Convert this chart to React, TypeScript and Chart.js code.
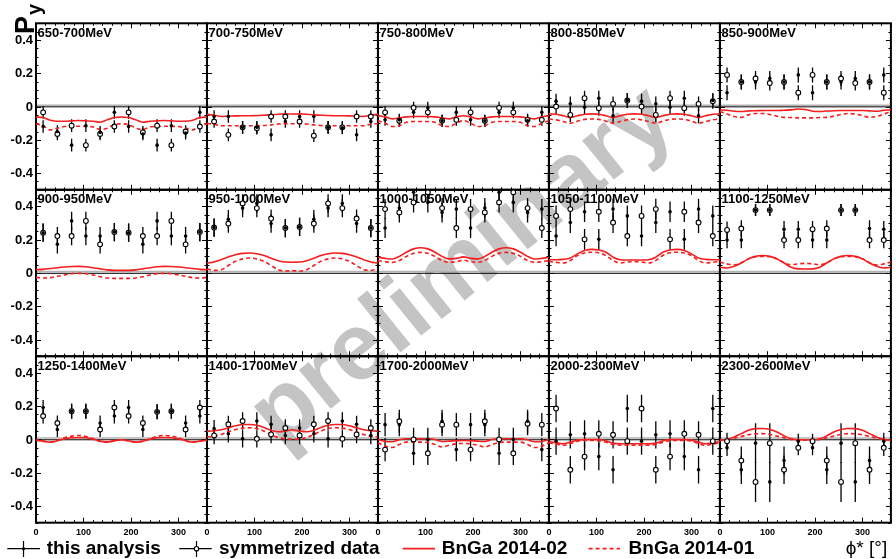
import React, { useEffect, useRef } from "react";
import { Chart, registerables } from "chart.js";

Chart.register(...registerables);

const FONT = '"Liberation Sans", Arial, Helvetica, sans-serif';

const PANEL_LABELS = [
  "650-700MeV", "700-750MeV", "750-800MeV", "800-850MeV", "850-900MeV",
  "900-950MeV", "950-1000MeV", "1000-1050MeV", "1050-1100MeV", "1100-1250MeV",
  "1250-1400MeV", "1400-1700MeV", "1700-2000MeV", "2000-2300MeV", "2300-2600MeV",
];

const PHI_BINS = [15, 45, 75, 105, 135, 165, 195, 225, 255, 285, 315, 345];
const CURVE_PHI = [0, 15, 30, 45, 60, 75, 90, 105, 120, 135, 150, 165, 180, 195, 210, 225, 240, 255, 270, 285, 300, 315, 330, 345, 360];

const X_TICKS = [0, 100, 200, 300];
const X_TICK_LABELS = ["0", "100", "200", "300"];
const Y_TICKS = [-0.4, -0.2, 0, 0.2, 0.4];
const Y_TICK_LABELS = ["-0.4", "-0.2", "0", "0.2", "0.4"];

const LEGEND_LABELS = ["this analysis", "symmetrized data", "BnGa 2014-02", "BnGa 2014-01"];
const X_TITLE = "\u03D5* [\u00B0]";
const Y_TITLE = "P";
const Y_TITLE_SUB = "y";
const WATERMARK = "preliminary";

// "this analysis" (filled dots)
const THIS_ANALYSIS = [
  [-0.12, -0.15, -0.232, -0.115, -0.155, -0.035, -0.12, -0.165, -0.232, -0.115, -0.16, -0.035],
  [-0.06, -0.06, -0.125, -0.125, -0.17, -0.09, -0.06, -0.06, -0.125, -0.128, -0.17, -0.09],
  [-0.08, -0.08, -0.035, -0.008, -0.085, -0.035, -0.08, -0.085, -0.035, -0.008, -0.085, -0.035],
  [0.032, 0.016, -0.004, 0.05, -0.055, 0.036, 0.032, 0.016, -0.004, 0.05, -0.055, 0.036],
  [0.083, 0.147, 0.147, 0.168, 0.147, 0.19, 0.083, 0.147, 0.147, 0.168, 0.147, 0.19],
  [0.242, 0.172, 0.313, 0.222, 0.222, 0.246, 0.242, 0.172, 0.313, 0.222, 0.222, 0.246],
  [0.273, 0.323, 0.39, 0.418, 0.297, 0.27, 0.277, 0.323, 0.39, 0.418, 0.297, 0.27],
  [0.27, 0.39, 0.485, 0.424, 0.364, 0.384, 0.27, 0.39, 0.485, 0.424, 0.364, 0.384],
  [0.222, 0.303, 0.368, 0.202, 0.384, 0.343, 0.222, 0.303, 0.368, 0.202, 0.384, 0.343],
  [0.198, 0.198, 0.378, 0.378, 0.263, 0.263, 0.198, 0.198, 0.378, 0.378, 0.267, 0.263],
  [0.192, 0.06, 0.17, 0.17, 0.099, 0.141, 0.192, 0.06, 0.166, 0.17, 0.099, 0.141],
  [0.065, 0.034, 0.004, 0.111, 0.091, 0.024, 0.069, 0.034, 0.004, 0.111, 0.091, 0.024],
  [0.089, 0.089, -0.083, 0.0, 0.109, -0.061, 0.089, 0.089, -0.083, 0.0, 0.109, -0.061],
  [-0.01, 0.028, 0.034, -0.103, -0.182, 0.186, -0.01, 0.028, 0.034, -0.103, -0.182, 0.186],
  [-0.05, -0.182, -0.022, -0.255, -0.127, -0.01, -0.05, -0.182, -0.022, -0.255, -0.127, -0.01],
];

// "symmetrized data" (open circles)
const SYMMETRIZED = [
  [-0.035, -0.165, -0.115, -0.232, -0.165, -0.12, -0.035, -0.155, -0.115, -0.232, -0.15, -0.12],
  [-0.09, -0.17, -0.125, -0.13, -0.06, -0.06, -0.09, -0.175, -0.125, -0.125, -0.06, -0.06],
  [-0.035, -0.085, -0.008, -0.035, -0.085, -0.08, -0.035, -0.085, -0.008, -0.035, -0.08, -0.08],
  [0.0, -0.05, 0.05, -0.01, 0.016, 0.036, 0.0, -0.05, 0.05, -0.01, 0.016, 0.032],
  [0.19, 0.147, 0.168, 0.141, 0.147, 0.083, 0.19, 0.147, 0.168, 0.141, 0.147, 0.083],
  [0.242, 0.222, 0.222, 0.313, 0.172, 0.246, 0.242, 0.222, 0.222, 0.313, 0.172, 0.246],
  [0.273, 0.297, 0.418, 0.39, 0.327, 0.27, 0.277, 0.297, 0.418, 0.39, 0.327, 0.27],
  [0.384, 0.364, 0.424, 0.485, 0.39, 0.27, 0.384, 0.364, 0.424, 0.485, 0.39, 0.27],
  [0.343, 0.384, 0.202, 0.368, 0.303, 0.222, 0.343, 0.384, 0.202, 0.368, 0.303, 0.222],
  [0.259, 0.267, 0.378, 0.378, 0.198, 0.198, 0.263, 0.267, 0.378, 0.378, 0.198, 0.198],
  [0.141, 0.099, 0.17, 0.17, 0.06, 0.192, 0.141, 0.099, 0.166, 0.17, 0.06, 0.192],
  [0.024, 0.091, 0.111, 0.004, 0.03, 0.069, 0.024, 0.091, 0.111, 0.004, 0.03, 0.069],
  [-0.061, 0.109, 0.0, -0.083, 0.089, 0.089, -0.061, 0.109, 0.0, -0.083, 0.095, 0.089],
  [0.186, -0.182, -0.103, 0.034, 0.028, -0.01, 0.186, -0.182, -0.103, 0.034, 0.028, -0.01],
  [-0.01, -0.127, -0.255, -0.022, -0.182, -0.05, -0.01, -0.127, -0.255, -0.022, -0.182, -0.05],
];

const ERRORS = [
  [0.038, 0.038, 0.038, 0.038, 0.038, 0.038, 0.038, 0.038, 0.038, 0.038, 0.038, 0.038],
  [0.038, 0.038, 0.038, 0.038, 0.038, 0.038, 0.038, 0.038, 0.038, 0.038, 0.038, 0.038],
  [0.036, 0.036, 0.036, 0.036, 0.036, 0.036, 0.036, 0.036, 0.036, 0.036, 0.036, 0.036],
  [0.045, 0.045, 0.045, 0.045, 0.045, 0.045, 0.045, 0.045, 0.045, 0.045, 0.045, 0.045],
  [0.045, 0.045, 0.045, 0.045, 0.045, 0.045, 0.045, 0.045, 0.045, 0.045, 0.045, 0.045],
  [0.055, 0.055, 0.055, 0.055, 0.055, 0.055, 0.055, 0.055, 0.055, 0.055, 0.055, 0.055],
  [0.055, 0.055, 0.055, 0.055, 0.055, 0.055, 0.055, 0.055, 0.055, 0.055, 0.055, 0.055],
  [0.06, 0.06, 0.06, 0.06, 0.06, 0.06, 0.06, 0.06, 0.06, 0.06, 0.06, 0.06],
  [0.062, 0.062, 0.062, 0.062, 0.062, 0.062, 0.062, 0.062, 0.062, 0.062, 0.062, 0.062],
  [0.05, 0.05, 0.036, 0.036, 0.05, 0.05, 0.05, 0.05, 0.036, 0.036, 0.05, 0.05],
  [0.045, 0.045, 0.045, 0.045, 0.045, 0.045, 0.045, 0.045, 0.045, 0.045, 0.045, 0.045],
  [0.052, 0.052, 0.052, 0.052, 0.052, 0.052, 0.052, 0.052, 0.052, 0.052, 0.052, 0.052],
  [0.07, 0.07, 0.07, 0.07, 0.07, 0.07, 0.07, 0.07, 0.07, 0.07, 0.07, 0.07],
  [0.082, 0.082, 0.082, 0.082, 0.082, 0.082, 0.082, 0.082, 0.082, 0.082, 0.082, 0.082],
  [0.05, 0.085, 0.12, 0.12, 0.085, 0.045, 0.045, 0.085, 0.12, 0.12, 0.085, 0.05],
];

// BnGa 2014-02 (solid red)
const BNGA_2014_02 = [
  [-0.063, -0.066, -0.082, -0.088, -0.088, -0.086, -0.084, -0.086, -0.088, -0.094, -0.08, -0.066, -0.063, -0.066, -0.08, -0.094, -0.088, -0.086, -0.084, -0.086, -0.088, -0.088, -0.082, -0.066, -0.063],
  [-0.047, -0.052, -0.06, -0.058, -0.056, -0.055, -0.055, -0.054, -0.052, -0.05, -0.046, -0.044, -0.045, -0.044, -0.046, -0.05, -0.052, -0.054, -0.055, -0.055, -0.056, -0.058, -0.06, -0.052, -0.047],
  [-0.055, -0.062, -0.074, -0.068, -0.062, -0.06, -0.06, -0.06, -0.062, -0.068, -0.074, -0.062, -0.055, -0.062, -0.074, -0.068, -0.062, -0.06, -0.06, -0.06, -0.062, -0.068, -0.074, -0.062, -0.055],
  [-0.044, -0.046, -0.055, -0.066, -0.055, -0.046, -0.044, -0.046, -0.055, -0.066, -0.055, -0.046, -0.044, -0.046, -0.055, -0.066, -0.055, -0.046, -0.044, -0.046, -0.055, -0.066, -0.055, -0.046, -0.044],
  [-0.02, -0.022, -0.028, -0.03, -0.026, -0.025, -0.024, -0.024, -0.024, -0.022, -0.02, -0.015, -0.018, -0.028, -0.03, -0.027, -0.025, -0.024, -0.024, -0.024, -0.024, -0.026, -0.028, -0.022, -0.02],
  [0.02, 0.022, 0.027, 0.032, 0.036, 0.039, 0.04, 0.038, 0.032, 0.025, 0.019, 0.016, 0.016, 0.016, 0.019, 0.025, 0.032, 0.038, 0.04, 0.039, 0.036, 0.032, 0.027, 0.022, 0.02],
  [0.06, 0.066, 0.08, 0.096, 0.11, 0.118, 0.12, 0.116, 0.105, 0.088, 0.074, 0.066, 0.065, 0.066, 0.074, 0.088, 0.105, 0.116, 0.12, 0.118, 0.11, 0.096, 0.08, 0.066, 0.06],
  [0.095, 0.088, 0.084, 0.1, 0.125, 0.145, 0.152, 0.145, 0.125, 0.1, 0.085, 0.088, 0.097, 0.088, 0.085, 0.1, 0.125, 0.145, 0.152, 0.145, 0.125, 0.1, 0.084, 0.088, 0.095],
  [0.08, 0.08, 0.082, 0.09, 0.115, 0.135, 0.142, 0.138, 0.125, 0.095, 0.08, 0.078, 0.078, 0.078, 0.08, 0.095, 0.125, 0.138, 0.142, 0.135, 0.115, 0.09, 0.082, 0.08, 0.08],
  [0.035, 0.03, 0.04, 0.06, 0.085, 0.1, 0.105, 0.1, 0.085, 0.06, 0.035, 0.025, 0.024, 0.025, 0.035, 0.06, 0.085, 0.1, 0.105, 0.1, 0.085, 0.06, 0.04, 0.03, 0.035],
  [-0.004, -0.01, -0.016, -0.008, 0.004, 0.01, 0.012, 0.01, 0.002, -0.01, -0.016, -0.008, -0.002, -0.008, -0.016, -0.01, 0.002, 0.01, 0.012, 0.01, 0.004, -0.008, -0.016, -0.01, -0.004],
  [0.05, 0.052, 0.058, 0.07, 0.082, 0.09, 0.09, 0.085, 0.072, 0.055, 0.046, 0.05, 0.058, 0.05, 0.046, 0.055, 0.072, 0.085, 0.09, 0.09, 0.082, 0.07, 0.058, 0.052, 0.05],
  [0.0, -0.012, -0.014, -0.002, 0.004, 0.004, 0.004, 0.004, 0.0, -0.012, -0.01, -0.007, -0.006, -0.007, -0.01, -0.012, 0.0, 0.004, 0.004, 0.004, 0.004, -0.002, -0.014, -0.012, 0.0],
  [-0.012, -0.02, -0.026, -0.016, -0.004, 0.0, 0.0, 0.0, -0.008, -0.022, -0.026, -0.026, -0.026, -0.026, -0.026, -0.022, -0.008, 0.0, 0.0, 0.0, -0.004, -0.016, -0.026, -0.02, -0.012],
  [-0.004, 0.0, 0.015, 0.035, 0.055, 0.065, 0.066, 0.06, 0.045, 0.022, 0.004, -0.002, -0.002, -0.002, 0.004, 0.022, 0.045, 0.06, 0.066, 0.065, 0.055, 0.035, 0.015, 0.0, -0.004],
];

// BnGa 2014-01 (dashed red)
const BNGA_2014_01 = [
  [-0.104, -0.115, -0.14, -0.13, -0.12, -0.119, -0.118, -0.119, -0.122, -0.138, -0.13, -0.108, -0.104, -0.108, -0.13, -0.138, -0.122, -0.119, -0.118, -0.119, -0.12, -0.13, -0.14, -0.115, -0.104],
  [-0.102, -0.106, -0.115, -0.115, -0.115, -0.115, -0.115, -0.115, -0.114, -0.11, -0.105, -0.103, -0.103, -0.103, -0.105, -0.11, -0.114, -0.115, -0.115, -0.115, -0.115, -0.115, -0.115, -0.106, -0.102],
  [-0.085, -0.1, -0.12, -0.115, -0.095, -0.09, -0.09, -0.09, -0.095, -0.115, -0.12, -0.1, -0.085, -0.1, -0.12, -0.115, -0.095, -0.09, -0.09, -0.09, -0.095, -0.115, -0.12, -0.1, -0.085],
  [-0.075, -0.08, -0.09, -0.1, -0.088, -0.077, -0.075, -0.077, -0.088, -0.1, -0.09, -0.08, -0.075, -0.08, -0.09, -0.1, -0.088, -0.077, -0.075, -0.077, -0.088, -0.1, -0.09, -0.08, -0.075],
  [-0.03, -0.045, -0.06, -0.065, -0.05, -0.042, -0.042, -0.048, -0.058, -0.065, -0.066, -0.068, -0.068, -0.068, -0.066, -0.065, -0.058, -0.048, -0.042, -0.045, -0.055, -0.065, -0.06, -0.045, -0.03],
  [-0.026, -0.03, -0.028, -0.02, -0.012, -0.004, -0.002, -0.004, -0.012, -0.022, -0.03, -0.032, -0.032, -0.032, -0.03, -0.022, -0.012, -0.004, -0.002, -0.004, -0.012, -0.02, -0.028, -0.03, -0.026],
  [0.024, 0.016, 0.02, 0.045, 0.07, 0.085, 0.09, 0.085, 0.07, 0.045, 0.02, 0.012, 0.014, 0.012, 0.02, 0.045, 0.07, 0.085, 0.09, 0.085, 0.07, 0.045, 0.02, 0.016, 0.024],
  [0.074, 0.068, 0.064, 0.075, 0.1, 0.118, 0.124, 0.118, 0.1, 0.075, 0.064, 0.068, 0.077, 0.068, 0.064, 0.075, 0.1, 0.118, 0.124, 0.118, 0.1, 0.075, 0.064, 0.068, 0.074],
  [0.07, 0.064, 0.06, 0.075, 0.105, 0.12, 0.125, 0.122, 0.105, 0.075, 0.06, 0.066, 0.068, 0.066, 0.06, 0.075, 0.105, 0.122, 0.125, 0.12, 0.105, 0.075, 0.06, 0.064, 0.07],
  [0.066, 0.055, 0.048, 0.062, 0.085, 0.098, 0.1, 0.098, 0.085, 0.062, 0.05, 0.055, 0.058, 0.055, 0.05, 0.062, 0.085, 0.098, 0.1, 0.098, 0.085, 0.062, 0.048, 0.055, 0.066],
  [-0.004, -0.01, -0.016, -0.006, 0.01, 0.02, 0.024, 0.018, 0.004, -0.012, -0.016, -0.008, -0.002, -0.008, -0.016, -0.012, 0.004, 0.018, 0.024, 0.02, 0.01, -0.006, -0.016, -0.01, -0.004],
  [0.016, 0.018, 0.03, 0.045, 0.06, 0.068, 0.07, 0.065, 0.05, 0.03, 0.012, 0.004, 0.002, 0.004, 0.012, 0.03, 0.05, 0.065, 0.07, 0.068, 0.06, 0.045, 0.03, 0.018, 0.016],
  [-0.018, -0.04, -0.048, -0.03, -0.016, -0.016, -0.016, -0.018, -0.03, -0.045, -0.035, -0.026, -0.024, -0.026, -0.035, -0.045, -0.03, -0.018, -0.016, -0.016, -0.016, -0.03, -0.048, -0.04, -0.018],
  [-0.02, -0.028, -0.035, -0.025, -0.01, -0.006, -0.006, -0.008, -0.016, -0.03, -0.034, -0.034, -0.034, -0.034, -0.034, -0.03, -0.016, -0.008, -0.006, -0.006, -0.01, -0.025, -0.035, -0.028, -0.02],
  [-0.004, 0.0, 0.008, 0.018, 0.028, 0.034, 0.035, 0.03, 0.02, 0.01, 0.0, -0.004, -0.004, -0.004, 0.0, 0.01, 0.02, 0.03, 0.035, 0.034, 0.028, 0.018, 0.008, 0.0, -0.004],
];

const RED = "rgb(245,30,30)";
const N_COLS = 5;
const N_ROWS = 3;
const X_IDS = ["x0", "x1", "x2", "x3", "x4"];
const Y_IDS = ["y0", "y1", "y2"];

function gridScales(chart: any) {
  const cols = X_IDS.map((id) => chart.scales[id]).sort((a: any, b: any) => a.left - b.left);
  const rows = Y_IDS.map((id) => chart.scales[id]).sort((a: any, b: any) => a.top - b.top);
  return { cols, rows };
}

function seg(ctx: CanvasRenderingContext2D, x1: number, y1: number, x2: number, y2: number) {
  ctx.beginPath();
  ctx.moveTo(x1, y1);
  ctx.lineTo(x2, y2);
  ctx.stroke();
}

const rootStylePlugin = {
  id: "rootStyle",
  beforeDatasetsDraw(chart: any) {
    const ctx: CanvasRenderingContext2D = chart.ctx;
    const { cols, rows } = gridScales(chart);
    ctx.save();

    // watermark (behind everything)
    ctx.save();
    ctx.translate(463, 268);
    ctx.rotate((-39 * Math.PI) / 180);
    ctx.fillStyle = "rgb(196,196,196)";
    ctx.font = `bold 95px ${FONT}`;
    ctx.textAlign = "center";
    ctx.textBaseline = "middle";
    ctx.fillText(WATERMARK, 0, 0);
    ctx.restore();

    // panel labels
    ctx.fillStyle = "#000";
    ctx.font = `bold 13px ${FONT}`;
    ctx.textAlign = "left";
    ctx.textBaseline = "alphabetic";
    PANEL_LABELS.forEach((lab, p) => {
      const xs = cols[p % N_COLS];
      const ys = rows[Math.floor(p / N_COLS)];
      ctx.fillText(lab, xs.left + 1.5, ys.top + 13.7);
    });

    for (let p = 0; p < N_COLS * N_ROWS; p++) {
      const xs = cols[p % N_COLS];
      const ys = rows[Math.floor(p / N_COLS)];
      const l = xs.left, r = xs.right, t = ys.top, b = ys.bottom;
      const y0 = ys.getPixelForValue(0);
      // zero lines
      ctx.strokeStyle = "rgb(178,178,178)";
      ctx.lineWidth = 1.5;
      seg(ctx, l, y0 - 1.4, r, y0 - 1.4);
      ctx.strokeStyle = "#000";
      ctx.lineWidth = 1;
      seg(ctx, l, y0 + 0.3, r, y0 + 0.3);
      // ticks
      ctx.lineWidth = 1;
      for (let v = 0; v <= 360; v += 20) {
        const x = Math.round(xs.getPixelForValue(v)) + 0.5;
        const len = v % 100 === 0 ? 5 : 2.5;
        seg(ctx, x, b, x, b - len);
        seg(ctx, x, t, x, t + len);
      }
      for (let k = -10; k <= 10; k++) {
        const y = Math.round(ys.getPixelForValue(k * 0.05)) + 0.5;
        const len = k % 4 === 0 ? 5 : 2.5;
        seg(ctx, l, y, l + len, y);
        seg(ctx, r, y, r - len, y);
      }
      // frame
      ctx.lineWidth = 2;
      ctx.strokeRect(l, t, r - l, b - t);

      // error bars
      ctx.save();
      ctx.beginPath();
      ctx.rect(l, t, r - l, b - t);
      ctx.clip();
      ctx.strokeStyle = "#000";
      ctx.lineWidth = 1.3;
      PHI_BINS.forEach((phi, i) => {
        const x = xs.getPixelForValue(phi);
        const e = ERRORS[p][i];
        [THIS_ANALYSIS[p][i], SYMMETRIZED[p][i]].forEach((v) => {
          seg(ctx, x, ys.getPixelForValue(v - e), x, ys.getPixelForValue(v + e));
        });
      });
      ctx.restore();
    }
    ctx.restore();
  },
  afterDraw(chart: any) {
    const ctx: CanvasRenderingContext2D = chart.ctx;
    const { cols, rows } = gridScales(chart);
    ctx.save();
    ctx.fillStyle = "#000";

    // y tick labels
    ctx.font = `bold 13px ${FONT}`;
    ctx.textAlign = "right";
    ctx.textBaseline = "middle";
    rows.forEach((ys: any) => {
      Y_TICKS.forEach((v, i) => {
        ctx.fillText(Y_TICK_LABELS[i], cols[0].left - 3, ys.getPixelForValue(v) + 0.5);
      });
    });

    // x tick labels
    ctx.font = `bold 9px ${FONT}`;
    ctx.textAlign = "center";
    ctx.textBaseline = "alphabetic";
    const lastRow = rows[rows.length - 1];
    cols.forEach((xs: any) => {
      X_TICKS.forEach((v, i) => {
        ctx.fillText(X_TICK_LABELS[i], xs.getPixelForValue(v), lastRow.bottom + 12);
      });
    });

    // y title P_y
    ctx.save();
    ctx.translate(33.5, 34);
    ctx.rotate(-Math.PI / 2);
    ctx.textAlign = "left";
    ctx.textBaseline = "alphabetic";
    ctx.font = `bold 27px ${FONT}`;
    ctx.fillText(Y_TITLE, 0, 0);
    ctx.font = `bold 20px ${FONT}`;
    ctx.fillText(Y_TITLE_SUB, 19, 7);
    ctx.restore();

    // legend
    const ly = 548.7;
    const base = 554;
    ctx.font = `bold 19px ${FONT}`;
    ctx.textAlign = "left";
    ctx.textBaseline = "alphabetic";
    ctx.strokeStyle = "#000";
    ctx.lineWidth = 1.2;
    // this analysis
    seg(ctx, 7.3, ly, 40, ly);
    seg(ctx, 23.5, 541, 23.5, 557);
    ctx.beginPath();
    ctx.arc(23.5, ly, 1.6, 0, Math.PI * 2);
    ctx.fill();
    ctx.fillText(LEGEND_LABELS[0], 46.7, base);
    // symmetrized data
    seg(ctx, 179.3, ly, 211.7, ly);
    seg(ctx, 196.5, 541, 196.5, 557);
    ctx.beginPath();
    ctx.arc(196.5, ly, 2.2, 0, Math.PI * 2);
    ctx.fillStyle = "#fff";
    ctx.fill();
    ctx.lineWidth = 1.2;
    ctx.stroke();
    ctx.fillStyle = "#000";
    ctx.fillText(LEGEND_LABELS[1], 219, base);
    // BnGa 2014-02
    ctx.strokeStyle = RED;
    ctx.lineWidth = 1.8;
    seg(ctx, 402.7, ly, 435, ly);
    ctx.fillText(LEGEND_LABELS[2], 441.7, base);
    // BnGa 2014-01
    ctx.setLineDash([4, 3]);
    seg(ctx, 588.6, ly, 620, ly);
    ctx.setLineDash([]);
    ctx.fillText(LEGEND_LABELS[3], 628.6, base);

    // x title
    ctx.font = `19px ${FONT}`;
    ctx.fillText(X_TITLE, 845.7, base);
    ctx.restore();
  },
};

export default function App() {
  const canvasRef = useRef<HTMLCanvasElement | null>(null);

  useEffect(() => {
    const canvas = canvasRef.current;
    if (!canvas) return;

    const scales: any = {};
    X_IDS.forEach((id) => {
      scales[id] = {
        type: "linear",
        position: "bottom",
        stack: "columns",
        stackWeight: 1,
        min: 0,
        max: 360,
        display: false,
      };
    });
    Y_IDS.forEach((id) => {
      scales[id] = {
        type: "linear",
        position: "left",
        stack: "rows",
        stackWeight: 1,
        min: -0.5,
        max: 0.5,
        display: false,
      };
    });

    const datasets: any[] = [];
    for (let p = 0; p < N_COLS * N_ROWS; p++) {
      const col = p % N_COLS;
      const row = Math.floor(p / N_COLS);
      const axes = { xAxisID: X_IDS[col], yAxisID: Y_IDS[row], panelCol: col, panelRow: row };
      datasets.push({
        ...axes,
        type: "line",
        label: LEGEND_LABELS[0],
        data: PHI_BINS.map((x, i) => ({ x, y: THIS_ANALYSIS[p][i] })),
        showLine: false,
        pointRadius: 1.8,
        pointBackgroundColor: "#000",
        pointBorderColor: "#000",
        pointBorderWidth: 0,
        order: 0,
      });
      datasets.push({
        ...axes,
        type: "line",
        label: LEGEND_LABELS[1],
        data: PHI_BINS.map((x, i) => ({ x, y: SYMMETRIZED[p][i] })),
        showLine: false,
        pointRadius: 2.4,
        pointBackgroundColor: "#fff",
        pointBorderColor: "#000",
        pointBorderWidth: 1.1,
        order: 1,
      });
      datasets.push({
        ...axes,
        type: "line",
        label: LEGEND_LABELS[2],
        data: CURVE_PHI.map((x, i) => ({ x, y: BNGA_2014_02[p][i] })),
        borderColor: RED,
        borderWidth: 1.6,
        pointRadius: 0,
        fill: false,
        cubicInterpolationMode: "monotone",
        order: 2,
      });
      datasets.push({
        ...axes,
        type: "line",
        label: LEGEND_LABELS[3],
        data: CURVE_PHI.map((x, i) => ({ x, y: BNGA_2014_01[p][i] })),
        borderColor: RED,
        borderWidth: 1.6,
        borderDash: [4, 3],
        pointRadius: 0,
        fill: false,
        cubicInterpolationMode: "monotone",
        order: 3,
      });
    }

    const chart = new Chart(canvas, {
      type: "line",
      data: { datasets },
      options: {
        responsive: false,
        animation: false,
        devicePixelRatio: 1,
        events: [],
        layout: { padding: { left: 36, top: 23.3, right: 1.3, bottom: 36.3 } },
        plugins: { legend: { display: false }, tooltip: { enabled: false } },
        scales,
      } as any,
      plugins: [rootStylePlugin as any],
    });

    // map panel rows/columns onto the stacked axes in their laid-out order
    const colIds = X_IDS.slice().sort((a, b) => (chart.scales as any)[a].left - (chart.scales as any)[b].left);
    const rowIds = Y_IDS.slice().sort((a, b) => (chart.scales as any)[a].top - (chart.scales as any)[b].top);
    let changed = false;
    chart.data.datasets.forEach((ds: any) => {
      const xId = colIds[ds.panelCol];
      const yId = rowIds[ds.panelRow];
      if (ds.xAxisID !== xId || ds.yAxisID !== yId) {
        ds.xAxisID = xId;
        ds.yAxisID = yId;
        changed = true;
      }
    });
    if (changed) chart.update();

    return () => chart.destroy();
  }, []);

  return (
    <div style={{ position: "fixed", left: 0, top: 0, width: 896, height: 559, background: "#fff" }}>
      <canvas ref={canvasRef} width={896} height={559} style={{ display: "block" }} />
    </div>
  );
}
